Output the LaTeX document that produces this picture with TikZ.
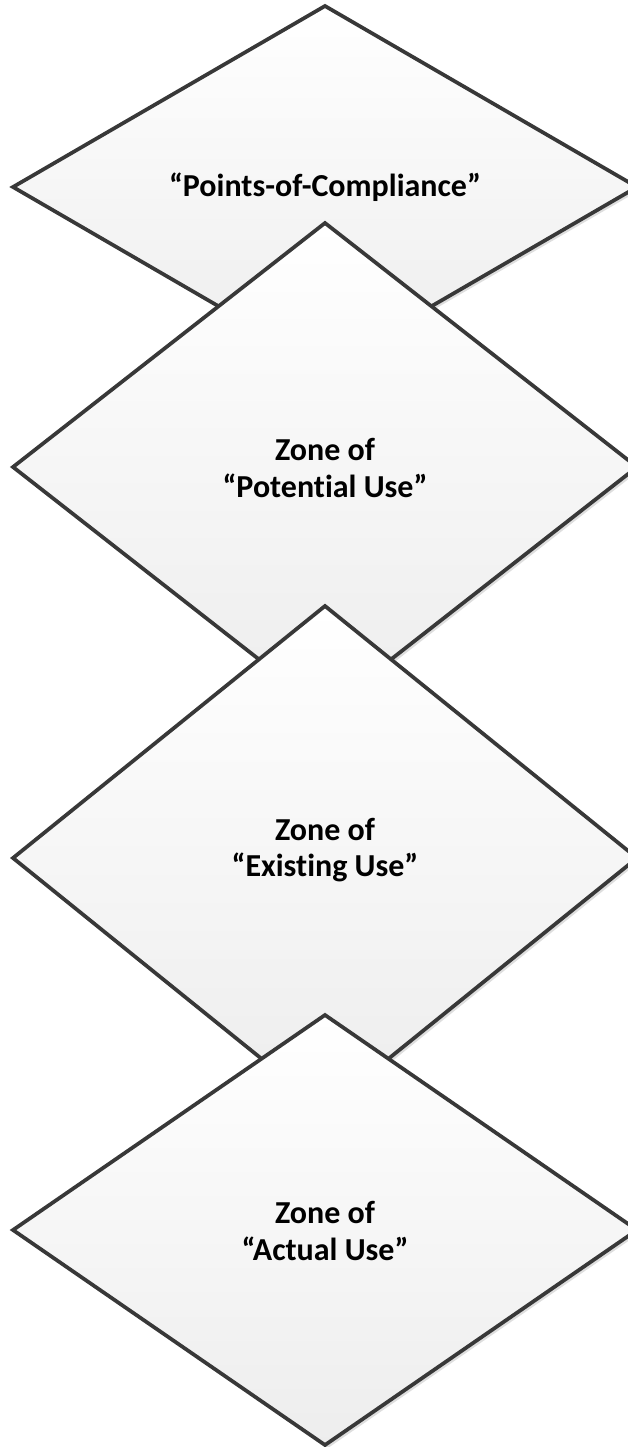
\documentclass[tikz,border=0pt]{standalone}
\usepackage{fontspec}
\setmainfont[Ligatures=NoCommon]{Carlito}
\begin{document}
\begin{tikzpicture}[x=0.75pt,y=-0.75pt,
  dia/.style={draw=black!78,line width=2.8pt,line join=miter,top color=white,bottom color=black!7},
  shad/.style={fill=black!13},
  lbl/.style={font=\bfseries\fontsize{24}{27.5}\selectfont,align=center,text=black,inner sep=0pt}]
\useasboundingbox (0,0) rectangle (628,1447);
\foreach \cy/\h in {187/181,467/244,858/252,1230/215}{
  \fill[shad] (328,\cy-\h+3) -- (640,\cy+3) -- (328,\cy+\h+3) -- (16,\cy+3) -- cycle;
  \path[dia] (325,\cy-\h) -- (637,\cy) -- (325,\cy+\h) -- (13,\cy) -- cycle;
}
\node[lbl] (t1) at (325,187) {“Points-of-Compliance”};
\node[lbl] (t2) at (325,468) {Zone of\\“Potential Use”};
\node[lbl] (t3) at (325,850) {Zone of\\“Existing Use”};
\node[lbl] (t4) at (325,1231) {Zone of\\“Actual Use”};
\end{tikzpicture}
\end{document}
